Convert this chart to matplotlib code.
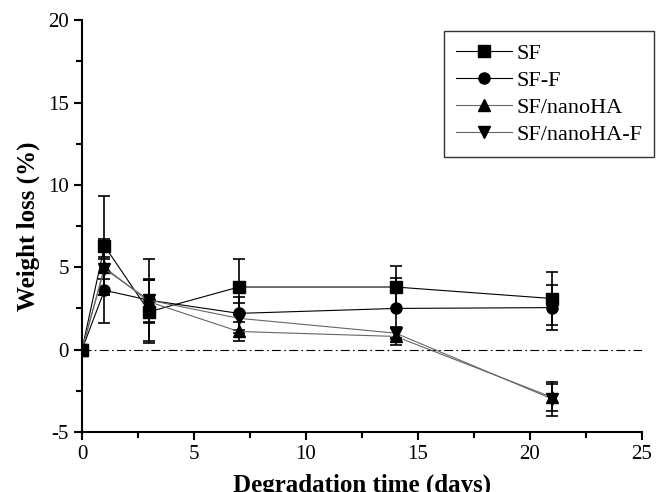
import numpy as np
import matplotlib
matplotlib.use("Agg")
from matplotlib import pyplot as plt

plt.rcParams["font.family"] = ["Liberation Serif", "DejaVu Serif"]
plt.rcParams["axes.unicode_minus"] = False

days = [0, 1, 3, 7, 14, 21]

sf = [0, 6.3, 2.3, 3.8, 3.8, 3.1]
sf_err = [0, 3.0, 1.9, 1.7, 1.3, 1.6]

sf_f = [0, 3.6, 3.0, 2.2, 2.5, 2.55]
sf_f_err = [0, 2.0, 2.5, 1.0, 1.85, 1.35]

ha = [0, 5.0, 2.9, 1.1, 0.8, -2.9]
ha_err = [0, 1.7, 1.3, 0.55, 0.55, 0.8]

ha_f = [0, 4.9, 3.0, 1.9, 1.0, -3.0]
ha_f_err = [0, 0.6, 1.3, 0.9, 0.3, 1.05]

labels = ["SF", "SF-F", "SF/nanoHA", "SF/nanoHA-F"]
markers = ["s", "o", "^", "v"]
line_colors = ["black", "black", "0.4", "0.4"]

fig = plt.figure(figsize=(6.63, 4.92), dpi=100)
ax = fig.add_axes([0.1237, 0.122, 0.8446, 0.837])

ax.axhline(0, color="black", lw=0.8, linestyle=(0, (8, 3, 1.5, 3)), zorder=1)

series = [(sf, sf_err), (sf_f, sf_f_err), (ha, ha_err), (ha_f, ha_f_err)]
for (y, e), lab, m, c in zip(series, labels, markers, line_colors):
    ax.errorbar(days, y, yerr=e, label=lab, marker=m, markersize=8,
                color=c, mfc="black", mec="black", ecolor="black",
                lw=0.8, elinewidth=1.2, capsize=4, capthick=1.2, zorder=3)

ax.set_xlim(0, 25)
ax.set_ylim(-5, 20)
ax.set_xticks([0, 5, 10, 15, 20, 25])
ax.set_yticks([-5, 0, 5, 10, 15, 20])
ax.set_xticks(np.arange(2.5, 25, 5), minor=True)
ax.set_yticks(np.arange(-2.5, 20, 5), minor=True)
ax.spines["top"].set_visible(False)
ax.spines["right"].set_visible(False)
for s in ["left", "bottom"]:
    ax.spines[s].set_linewidth(1.5)
ax.tick_params(which="major", direction="out", length=6, width=1.5, labelsize=15)
ax.tick_params(which="minor", direction="out", length=4, width=1.5)

# label sits partly below the image edge, as in the original
ax.set_xlabel("Degradation time (days)", fontsize=18, fontweight="bold", labelpad=7)
ax.set_ylabel("Weight loss (%)", fontsize=18, fontweight="bold", labelpad=6)

handles, labs = ax.get_legend_handles_labels()
handles = [h[0] for h in handles]
leg = ax.legend(handles, labs, loc="upper left", bbox_to_anchor=(444 / 663, 1 - 31 / 492),
                bbox_transform=fig.transFigure, fontsize=16, frameon=True, fancybox=False,
                edgecolor="black", handlelength=2.5, labelspacing=0.29, borderpad=0.55,
                handletextpad=0.2, borderaxespad=0)
leg.get_frame().set_linewidth(1.0)

fig.savefig("out.png", dpi=100)
